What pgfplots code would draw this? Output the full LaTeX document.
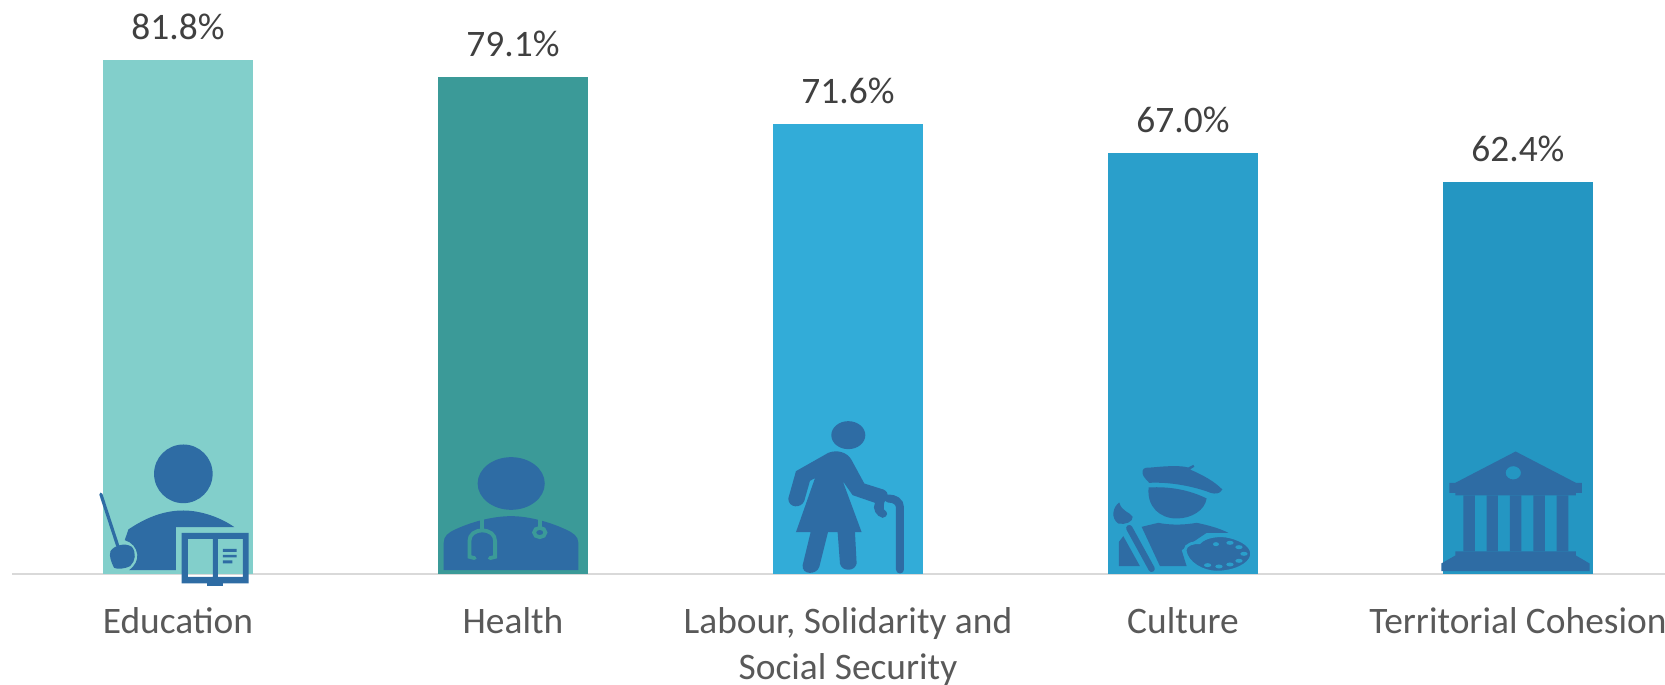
\documentclass[border=0pt]{standalone}
\usepackage{pgfplots}
\pgfplotsset{compat=1.18}
\usepackage{fontspec}
\setmainfont{Carlito}
\definecolor{barA}{HTML}{82CFCB}
\definecolor{barB}{HTML}{3B9A98}
\definecolor{barC}{HTML}{32ACD8}
\definecolor{barD}{HTML}{2A9FCB}
\definecolor{barE}{HTML}{2496C2}
\definecolor{icon}{HTML}{2E6CA4}
\definecolor{axisgrey}{HTML}{D9D9D9}
\definecolor{valtext}{HTML}{404040}
\definecolor{labtext}{HTML}{595959}
\begin{document}
\begin{tikzpicture}
\path[use as bounding box] (0,0) rectangle (832.5pt,342.5pt);
\begin{axis}[
  at={(6pt,55.75pt)}, anchor=south west,
  scale only axis, width=826.5pt, height=286.75pt,
  xmin=-0.4955, xmax=4.439, ymin=0, ymax=91.3,
  axis x line=bottom, axis y line=none,
  axis line style={draw=axisgrey, line width=1pt, -},
  xtick={0,1,2,3,4},
  xticklabels={Education,Health,{Labour, Solidarity and\\Social Security},Culture,Territorial Cohesion},
  major tick length=0pt,
  xticklabel style={align=center, text=labtext, font=\fontsize{18.7}{22.7}\selectfont, inner sep=0pt, yshift=-16.9pt, anchor=north},
  ybar, bar width=75pt,
  every axis plot/.append style={bar shift=0pt, draw=none},
  nodes near coords={\pgfmathprintnumber{\pgfplotspointmeta}\%},
  every node near coord/.append style={text=valtext, font=\fontsize{18.7}{22}\selectfont, yshift=6.5pt},
  /pgf/number format/.cd, fixed, fixed zerofill, precision=1, assume math mode=true,
  /pgfplots/.cd,
  clip=false,
]
\addplot[fill=barA] coordinates {(0,81.8)};
\addplot[fill=barB] coordinates {(1,79.1)};
\addplot[fill=barC] coordinates {(2,71.6)};
\addplot[fill=barD] coordinates {(3,67.0)};
\addplot[fill=barE] coordinates {(4,62.4)};
\coordinate (b0) at (axis cs:0,0);
\coordinate (b1) at (axis cs:1,0);
\coordinate (b2) at (axis cs:2,0);
\coordinate (b3) at (axis cs:3,0);
\coordinate (b4) at (axis cs:4,0);
\end{axis}
% Education icon
\begin{scope}[shift={(b0)}, x=0.17857pt, y=-0.16667pt, shift={(-274,-462)}]
  \fill[icon] (289,163) ellipse (82 and 88);
  \fill[icon] (125,362) -- (135,330) .. controls (190,290) and (240,273) .. (289,273)
     .. controls (340,273) and (395,295) .. (432,323) -- (268,323) -- (268,452) -- (137,452)
     .. controls (155,438) and (162,420) .. (160,405) .. controls (158,385) and (145,368) .. (125,362) -- cycle;
  \draw[icon, line width=1.6pt, line cap=round] (58,224) -- (105,378);
  \fill[icon] (85,395) .. controls (95,378) and (125,368) .. (145,382) .. controls (158,400) and (155,425) .. (140,440)
     .. controls (125,448) and (105,450) .. (95,445) .. controls (88,430) and (80,410) .. (85,395) -- cycle;
  \fill[icon, even odd rule] (284,340) rectangle (472,492) (302,358) rectangle (372,472) (386,358) rectangle (456,472);
  \fill[icon] (356,492) rectangle (400,500);
  \fill[icon] (400,388) rectangle (438,397) (400,406) rectangle (438,414) (400,423) rectangle (426,432);
\end{scope}
% Health icon
\begin{scope}[shift={(b1)}, x=0.17857pt, y=-0.16667pt, shift={(-1212,-462)}]
  \fill[icon] (1207,192) ellipse (94 and 79);
  \fill[icon] (1018,452) -- (1395,452) -- (1395,370) .. controls (1395,350) and (1380,340) .. (1360,330)
     .. controls (1320,310) and (1260,290) .. (1207,290) .. controls (1150,290) and (1090,310) .. (1050,330)
     .. controls (1030,340) and (1018,350) .. (1018,370) -- cycle;
  \draw[barB, line width=1.9pt] (1126,300) -- (1126,330) (1287,300) -- (1287,322);
  \draw[barB, line width=1.9pt, line cap=round] (1105,416) -- (1090,412) -- (1090,365)
     .. controls (1090,345) and (1105,333) .. (1126,333) .. controls (1147,333) and (1162,345) .. (1162,365) -- (1162,412) -- (1147,416);
  \draw[barB, line width=1.9pt] (1287,339) ellipse (16 and 14);
\end{scope}
% Labour icon
\begin{scope}[shift={(b2)}, x=0.16667pt, y=-0.16667pt, shift={(-264,-490)}]
  \fill[icon] (265,75) ellipse (51 and 42);
  \fill[icon] (108,183) -- (205,128) .. controls (230,118) and (262,125) .. (275,150) -- (313,220) -- (370,238)
     .. controls (380,242) and (385,250) .. (383,262) .. controls (372,270) and (370,285) .. (372,298)
     .. controls (385,305) and (385,320) .. (368,323) .. controls (350,320) and (335,295) .. (345,278)
     -- (278,255) -- (248,212) -- (305,366) -- (285,366) -- (290,460) .. controls (285,485) and (245,485) .. (240,460)
     -- (233,366) -- (204,366) -- (178,470) .. controls (170,495) and (125,495) .. (128,465) -- (152,366) -- (108,366)
     -- (165,204) -- (150,212) -- (133,272) .. controls (125,295) and (85,295) .. (85,265) -- cycle;
  \draw[icon, line width=4pt, line cap=round] (420,478) -- (420,292) .. controls (420,275) and (405,265) .. (385,265);
\end{scope}
% Culture icon
\begin{scope}[shift={(b3)}, x=0.16667pt, y=-0.16667pt, shift={(-1269,-490)}]
  \fill[icon] (1148,182) .. controls (1150,172) and (1160,172) .. (1175,172) .. controls (1215,168) and (1260,165) .. (1285,172)
     -- (1300,164) -- (1303,170) -- (1290,178) .. controls (1330,195) and (1365,215) .. (1387,238)
     .. controls (1380,252) and (1365,252) .. (1352,248) .. controls (1300,228) and (1230,215) .. (1168,218)
     .. controls (1155,205) and (1145,195) .. (1148,182) -- cycle;
  \fill[icon] (1166,232) .. controls (1230,228) and (1290,240) .. (1340,265) .. controls (1335,300) and (1295,325) .. (1250,325)
     .. controls (1200,325) and (1160,290) .. (1166,232) -- cycle;
  \fill[icon] (1078,277) .. controls (1058,290) and (1052,325) .. (1075,340) .. controls (1095,345) and (1120,335) .. (1118,320)
     .. controls (1110,305) and (1085,305) .. (1078,277) -- cycle;
  \draw[icon, line width=3.2pt, line cap=round] (1108,354) -- (1175,476);
  \fill[icon] (1077,395) -- (1090,378) -- (1140,468) -- (1077,468) -- cycle;
  \fill[icon] (1145,350) -- (1195,338) .. controls (1230,345) and (1270,345) .. (1310,338) .. controls (1345,345) and (1380,355) .. (1405,368)
     -- (1340,368) -- (1300,395) -- (1265,420) -- (1280,468) -- (1200,468) -- cycle;
  \fill[icon, draw=barD, line width=1.4pt] (1275,420) .. controls (1275,402) and (1305,395) .. (1318,398)
     .. controls (1335,378) and (1380,372) .. (1410,380) .. controls (1450,390) and (1478,410) .. (1475,435)
     .. controls (1470,465) and (1420,486) .. (1370,486) .. controls (1330,486) and (1280,460) .. (1275,420) -- cycle;
  \fill[barD] (1343,465) ellipse (11 and 6) (1377,469) ellipse (11 and 6) (1410,463) ellipse (11 and 6) (1437,452) ellipse (11 and 6)
     (1452,431) ellipse (11 and 6) (1437,411) ellipse (11 and 6) (1410,398) ellipse (11 and 6) (1368,402) ellipse (9 and 6);
\end{scope}
% Territorial icon
\begin{scope}[shift={(b4)}, x=0.16667pt, y=-0.16667pt, shift={(-354,-432)}]
  \fill[icon, even odd rule] (347,66) -- (528,160) -- (546,160) -- (546,190) -- (528,190) -- (528,198) -- (166,198) -- (166,190)
     -- (148,190) -- (148,160) -- (166,160) -- cycle (340,130) ellipse (23 and 20);
  \fill[icon] (190,198) rectangle (225,366) (260,198) rectangle (294,366) (330,198) rectangle (364,366)
     (400,198) rectangle (435,366) (470,198) rectangle (505,366);
  \fill[icon] (166,366) -- (528,366) -- (528,378) -- (569,402) -- (569,425) -- (124,425) -- (124,402) -- (166,378) -- cycle;
\end{scope}
\end{tikzpicture}
\end{document}
